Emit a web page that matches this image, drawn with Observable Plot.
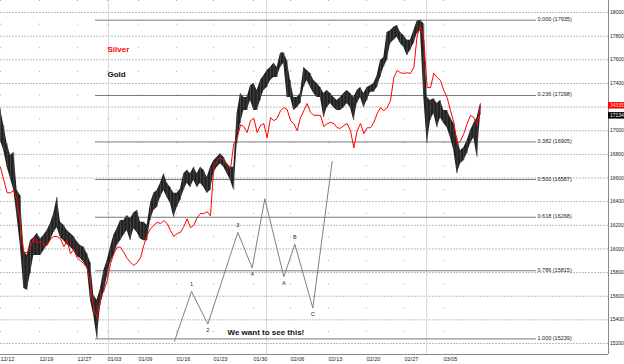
<!DOCTYPE html>
<html>
<head>
<meta charset="utf-8">
<script src="https://cdn.jsdelivr.net/npm/d3@7"></script>
<script src="https://cdn.jsdelivr.net/npm/@observablehq/plot@0.6"></script>
<style>
  html, body { margin: 0; padding: 0; background: #fff; }
  #chart svg { display: block; }
</style>
</head>
<body>
<div id="chart"></div>
<script>
// ---- data (sample index = ~half trading session) ----
const goldHigh = [17185,17045,16890,16790,16815,16495,16450,15985,15945,16070,
16095,16130,16085,16115,16155,16215,16300,16435,16225,16200,
16155,16130,16105,16060,16030,16015,15960,15885,15605,15565,
15665,15815,15900,16015,16115,16170,16240,16240,16280,16255,
16305,16325,16225,16225,16200,16385,16470,16495,16555,16635,
16555,16520,16470,16470,16510,16635,16665,16635,16690,16635,
16690,16665,16605,16690,16745,16775,16805,16775,16720,16690,
16690,17145,17315,17280,17280,17380,17400,17340,17425,17465,
17510,17535,17570,17535,17655,17660,17595,17425,17280,17280,
17315,17535,17510,17485,17425,17400,17365,17315,17340,17315,
17280,17255,17280,17315,17340,17315,17280,17340,17365,17315,
17365,17380,17400,17465,17595,17620,17830,17845,17875,17890,
17830,17805,17765,17765,17845,17925,17935,17905,17280,17255,
17270,17230,17255,17170,17170,17110,17060,16940,16830,16855,
16915,17000,17060,17110,17230];
const goldLow = [16915,16830,16690,16595,16495,16265,16015,15665,15650,15790,
15945,15945,15945,15985,16030,16070,16140,16180,16095,16070,
16035,16015,15985,15935,15920,15885,15840,15565,15435,15239,
15520,15630,15760,15885,15945,16030,16070,16115,16155,16070,
16170,16140,16085,16070,16070,16240,16325,16350,16435,16495,
16435,16385,16265,16350,16410,16495,16555,16520,16580,16520,
16555,16520,16470,16495,16645,16690,16720,16690,16635,16580,
16495,16890,17060,17170,17170,17255,17170,17170,17255,17340,
17365,17425,17450,17450,17535,17570,17280,17280,17170,17195,
17230,17365,17425,17365,17315,17280,17280,17110,17195,17230,
17195,17170,17170,17195,17230,17195,17085,17230,17280,17195,
17255,17325,17325,17365,17450,17535,17595,17735,17765,17790,
17735,17705,17635,17680,17735,17820,17845,17280,16890,17085,
17145,17025,17110,17060,17025,16940,16830,16635,16720,16745,
16805,16890,16940,16775,17130];
const silver = [16690,16580,16475,16475,16495,16410,16200,15970,15970,16015,
16095,16045,16070,16030,16030,16085,16105,16105,16085,16020,
16070,15960,15995,15925,15900,15875,15835,15690,15495,15420,
15590,15650,15730,15875,15960,16015,16015,15970,15920,15885,
15860,15885,15925,16030,16120,16170,16200,16225,16215,16240,
16215,16155,16105,16130,16140,16190,16255,16180,16200,16265,
16300,16300,16315,16280,16705,16740,16775,16745,16705,16680,
16890,16935,17050,17035,16985,17085,17105,16985,17045,17060,
16940,17110,17085,17105,17170,17195,17180,17085,17060,17000,
17110,17170,17230,17155,17130,17130,17130,17035,17060,17070,
17060,17025,17020,17045,17060,17000,16855,17000,17060,16975,
17025,17025,17070,17145,17195,17170,17195,17255,17450,17510,
17490,17485,17490,17485,17535,17805,17890,17765,17365,17365,
17485,17450,17425,17340,17280,17170,17070,16890,16915,16975,
17060,17130,17110,17045,17215];

const xTickIdx    = [0, 11.7, 23.1, 32.1, 41.4, 52.8, 63.9, 75.9, 87, 98.4, 109.8, 121.2, 132.9];
const xTickLabels = ["12/12","12/19","12/27","01/03","01/09","01/16","01/23","01/30","02/06","02/13","02/20","02/27","03/05"];
const monthIdx    = [32.4, 79.8, 127.8];
const yTicks      = [15200,15400,15600,15800,16000,16200,16400,16600,16800,17000,17200,17400,17600,17800,18000];

const fibLevels = ["0.000","0.236","0.382","0.500","0.618","0.786","1.000"];
const fibPrices = [17935, 17298, 16905, 16587, 16268, 15815, 15239];
const fibFromIdx = 28.5;   // the swing low bar
const fibToIdx   = 160.8;

const waveX      = [52.2, 57.3, 62.2, 71.2, 75.5, 79.3, 85, 88.3, 93.7, 99.5];
const waveY      = [15220, 15640, 15365, 16140, 15840, 16425, 15765, 16040, 15500, 16740];
const waveLabels = ["", "1", "2", "3", "4", "", "A", "B", "C", ""];

const silverLastLabel = "34335";
const goldLastLabel   = "17134";

// ---- derived tables ----
const bars = goldHigh.map((h, i) => ({i, hi: h, lo: goldLow[i], s: silver[i]}));
const fib = fibLevels.map((l, i) => ({level: l, price: fibPrices[i]}));
const wave = waveX.map((x, i) => ({x, y: waveY[i], label: waveLabels[i],
  peak: i > 0 && waveY[i] > waveY[i - 1]}));
const xMax = 182.4;
const xOut = xMax * 624 / 608;
const lastS = silver[silver.length - 1];
const lastG = goldLow[goldLow.length - 1];
// tick labels hidden under the last-value flags
const visibleTicks = yTicks.filter(t => Math.abs(t - lastS) > 45 && Math.abs(t - lastG) > 45);

const small = {fontSize: 5.5, fill: "#222"};
const tiny = {fontSize: 5, fill: "#222"};

const chart = Plot.plot({
  width: 624,
  height: 364,
  marginLeft: 0,
  marginRight: 16,
  marginTop: 0,
  marginBottom: 10,
  x: {domain: [0, xMax], axis: null},
  y: {domain: [15107, 18101.5], axis: null},
  style: {background: "#fff", fontFamily: "'Liberation Sans', Arial, sans-serif", overflow: "visible"},
  marks: [
    Plot.ruleY(yTicks, {stroke: "#bdbdbd", strokeDasharray: "2,1"}),
    Plot.ruleX(monthIdx, {stroke: "#dcdcdc"}),
    Plot.ruleX(xTickIdx, {stroke: "#aaa", strokeDasharray: "1,22.64"}),
    Plot.ruleY(fib, {y: "price", x1: fibFromIdx, x2: fibToIdx, stroke: "#7a7a7a"}),
    Plot.text(fib, {y: "price", x: fibToIdx, text: d => `${d.level} (${d.price})`,
      textAnchor: "start", lineAnchor: "bottom", dx: 1, dy: 1, ...small}),
    Plot.line(wave, {x: "x", y: "y", stroke: "#808080", strokeWidth: 1}),
    Plot.text(wave.filter(d => d.label && d.peak), {x: "x", y: "y", text: "label", dy: -7, ...small}),
    Plot.text(wave.filter(d => d.label && !d.peak), {x: "x", y: "y", text: "label", dy: 6.5, ...small}),
    Plot.areaY(bars, {x: "i", y1: "lo", y2: "hi", fill: "#222"}),
    Plot.ruleX(bars, {x: "i", y1: "lo", y2: "hi", stroke: "#555", strokeWidth: 0.7}),
    Plot.lineY(bars, {x: "i", y: "s", stroke: "#ff0000", strokeWidth: 1}),
    // annotations
    Plot.text(["Silver"], {frameAnchor: "top-left", dx: 107, dy: 46, text: d => d, textAnchor: "start",
      fontSize: 8, fontWeight: "bold", fill: "#ff0000"}),
    Plot.text(["Gold"], {frameAnchor: "top-left", dx: 107, dy: 71, text: d => d, textAnchor: "start",
      fontSize: 8, fontWeight: "bold", fill: "#111"}),
    Plot.text(["We want to see this!"], {frameAnchor: "top-left", dx: 227, dy: 329, text: d => d,
      textAnchor: "start", fontSize: 8, fontWeight: "bold", fill: "#111"}),
    // frame (right and bottom)
    Plot.ruleX([xMax], {stroke: "#8a8a8a"}),
    Plot.ruleY([15107], {stroke: "#8a8a8a"}),
    // right axis labels
    Plot.text(visibleTicks, {y: d => d, text: d => String(d), frameAnchor: "right", dx: 1.5, textAnchor: "start", ...tiny}),
    // last value flags
    Plot.ruleY([lastS], {x1: xMax, x2: xOut, stroke: "#ff0000", strokeWidth: 6.5}),
    Plot.text([silverLastLabel], {y: lastS, text: d => d, frameAnchor: "right", dx: 1.5, textAnchor: "start",
      fontSize: 5, fill: "#ffe0e0"}),
    Plot.ruleY([lastG], {x1: xMax, x2: xOut, stroke: "#000", strokeWidth: 6.5}),
    Plot.text([goldLastLabel], {y: lastG, text: d => d, frameAnchor: "right", dx: 1.5, textAnchor: "start",
      fontSize: 5, fill: "#fff"}),
    // x axis labels
    Plot.text(xTickIdx, {x: d => d, text: (d, i) => xTickLabels[i], frameAnchor: "bottom", dy: 5,
      textAnchor: "start", lineAnchor: "middle", ...small})
  ]
});
document.getElementById("chart").appendChild(chart);
</script>
</body>
</html>
